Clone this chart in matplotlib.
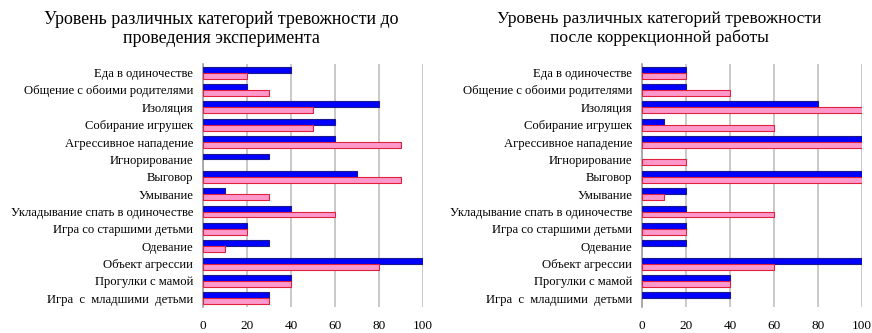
import matplotlib.pyplot as plt
import numpy as np

categories = [
    "Еда в одиночестве",
    "Общение с обоими родителями",
    "Изоляция",
    "Собирание игрушек",
    "Агрессивное нападение",
    "Игнорирование",
    "Выговор",
    "Умывание",
    "Укладывание спать в одиночестве",
    "Игра со старшими детьми",
    "Одевание",
    "Объект агрессии",
    "Прогулки с мамой",
    "Игра  с  младшими  детьми",
]

before_blue = [40, 20, 80, 60, 60, 30, 70, 10, 40, 20, 30, 100, 40, 30]
before_pink = [20, 30, 50, 50, 90, 0, 90, 30, 60, 20, 10, 80, 40, 30]
after_blue = [20, 20, 80, 10, 100, 0, 100, 20, 20, 20, 20, 100, 40, 40]
after_pink = [20, 40, 100, 60, 100, 20, 100, 10, 60, 20, 0, 60, 40, 0]

x_ticks = [0, 20, 40, 60, 80, 100]

titles = [
    "Уровень различных категорий тревожности до\nпроведения эксперимента",
    "Уровень различных категорий тревожности\nпосле коррекционной работы",
]

plt.rcParams["font.family"] = ["Liberation Serif", "DejaVu Serif"]

fig = plt.figure(figsize=(8.72, 3.33), dpi=100)
ax_left = fig.add_axes([0.2328, 0.078, 0.2523, 0.730])
ax_right = fig.add_axes([0.7362, 0.078, 0.2523, 0.730])

y = np.arange(len(categories))
h = 0.34


def bars(ax, pos, vals, fc, ec):
    vals = np.asarray(vals, dtype=float)
    keep = vals > 0  # empty categories get no outline at zero
    ax.barh(pos[keep], vals[keep], height=h, color=fc, edgecolor=ec, linewidth=0.8, zorder=3)


def draw(ax, blue, pink):
    bars(ax, y - h / 2, blue, "#0000ff", "#1a1a8c")
    bars(ax, y + h / 2, pink, "#ff99cc", "#e0203c")
    ax.set_xlim(0, 100)
    ax.set_ylim(len(categories) - 0.5, -0.5)
    ax.set_xticks(x_ticks)
    ax.set_yticks(y)
    ax.set_yticklabels(categories, fontsize=9.1)
    ax.tick_params(axis="x", length=0, pad=9, labelsize=9.5)
    ax.tick_params(axis="y", length=0, pad=7)
    ax.grid(axis="x", color="#c0c0c0", linewidth=1.2, zorder=0)
    for side in ("top", "right", "bottom"):
        ax.spines[side].set_visible(False)
    ax.spines["left"].set_color("#a0a0a0")
    ax.spines["left"].set_linewidth(1.2)


draw(ax_left, before_blue, before_pink)
draw(ax_right, after_blue, after_pink)

fig.text(0.2534, 0.913, titles[0], ha="center", va="center", fontsize=12.9, linespacing=1.2)
fig.text(0.7557, 0.913, titles[1], ha="center", va="center", fontsize=12.6, linespacing=1.2)

fig.savefig("out.png", dpi=100)
